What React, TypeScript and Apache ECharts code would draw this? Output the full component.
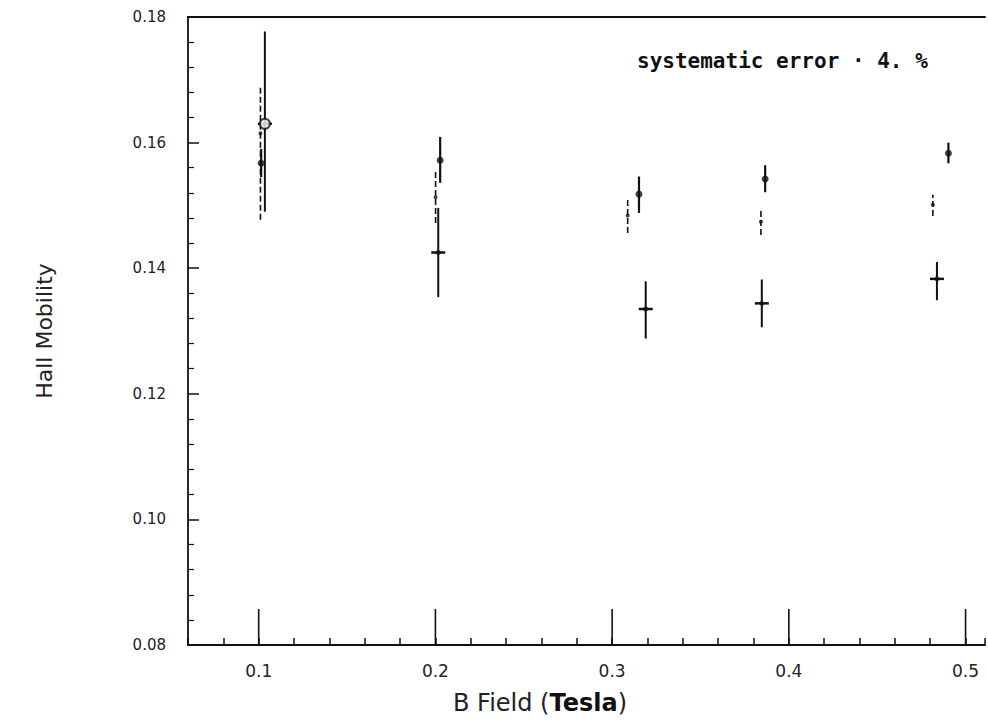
import React, { useEffect, useRef } from "react";
import * as echarts from "echarts";

// Series A: filled dots with solid error bars
const xA = [0.1014, 0.2027, 0.3152, 0.3866, 0.4903];
const yA = [0.1567, 0.1572, 0.1518, 0.1542, 0.1583];
const lowA = [0.1545, 0.1536, 0.1488, 0.1521, 0.1567];
const highA = [0.159, 0.1609, 0.1546, 0.1564, 0.16];

// Series B: small markers with thin (dashed) error bars
const xB = [0.101, 0.2001, 0.3088, 0.3842, 0.4815];
const yB = [0.1615, 0.1513, 0.1484, 0.1474, 0.1501];
const lowB = [0.1477, 0.1472, 0.1456, 0.1453, 0.1483];
const highB = [0.1692, 0.1553, 0.1512, 0.1494, 0.1517];

// Series C: crosses with error bars
const xC = [0.1035, 0.2016, 0.319, 0.3847, 0.4838];
const yC = [0.163, 0.1425, 0.1335, 0.1344, 0.1383];
const lowC = [0.149, 0.1354, 0.1288, 0.1306, 0.1349];
const highC = [0.1777, 0.1496, 0.1379, 0.1382, 0.141];

// Long (major) ticks on the B-field axis
const majorX = [0.1, 0.2, 0.3, 0.4, 0.5];

const yTicks = [0.08, 0.1, 0.12, 0.14, 0.16, 0.18];
const xMin = 0.06;
const xMax = 0.511;

const build = (xs: number[], ys: number[], lo: number[], hi: number[]) =>
  xs.map((x, i) => [x, ys[i], lo[i], hi[i]]);

const errRender =
  (width: number, dash: number[] | null, hbar: boolean) =>
  (params: any, api: any) => {
    const x = api.value(0);
    const y = api.value(1);
    const lo = api.value(2);
    const hi = api.value(3);
    const p1 = api.coord([x, lo]);
    const p2 = api.coord([x, hi]);
    const pc = api.coord([x, y]);
    const children: any[] = [
      {
        type: "line",
        shape: { x1: p1[0], y1: p1[1], x2: p2[0], y2: p2[1] },
        style: { stroke: "#111", lineWidth: width, lineDash: dash || undefined },
      },
    ];
    if (hbar) {
      children.push({
        type: "line",
        shape: { x1: pc[0] - 7, y1: pc[1], x2: pc[0] + 7, y2: pc[1] },
        style: { stroke: "#111", lineWidth: 2.5 },
      });
    }
    return { type: "group", children };
  };

export default function App() {
  const ref = useRef<HTMLDivElement>(null);
  useEffect(() => {
    if (!ref.current) return;
    const chart = echarts.init(ref.current, null, { renderer: "svg" });
    const font = "DejaVu Sans";
    chart.setOption({
      animation: false,
      backgroundColor: "#fff",
      grid: {
        left: 188,
        top: 17,
        right: 0,
        bottom: 75,
        show: false,
        containLabel: false,
      },
      xAxis: [
        {
          type: "value",
          min: xMin,
          max: xMax,
          interval: 0.02,
          axisLine: { show: true, lineStyle: { color: "#111", width: 2.2 } },
          axisTick: { show: true, inside: true, length: 7, lineStyle: { color: "#111", width: 1.5 } },
          splitLine: { show: false },
          axisLabel: {
            margin: 17,
            fontFamily: font,
            fontSize: 17,
            color: "#222",
            formatter: (v: number) =>
              Math.abs(v * 10 - Math.round(v * 10)) < 1e-6 ? v.toFixed(1) : "",
          },
        },
        {
          type: "value",
          position: "top",
          min: xMin,
          max: xMax,
          interval: 0.02,
          axisLine: { show: true, lineStyle: { color: "#111", width: 2 } },
          axisTick: { show: false },
          axisLabel: { show: false },
          splitLine: { show: false },
        },
      ],
      yAxis: {
        type: "value",
        min: yTicks[0],
        max: yTicks[yTicks.length - 1],
        interval: 0.02,
        axisLine: { show: true, lineStyle: { color: "#111", width: 1.8 } },
        axisTick: { show: true, inside: true, length: 11, lineStyle: { color: "#111", width: 1.5 } },
        minorTick: { show: true, splitNumber: 5, length: 6, lineStyle: { color: "#111", width: 1.2 } },
        splitLine: { show: false },
        axisLabel: {
          margin: 22,
          fontFamily: font,
          fontSize: 15,
          color: "#222",
          formatter: (v: number) => v.toFixed(2),
        },
        name: "Hall Mobility",
        nameLocation: "middle",
        nameRotate: 90,
        nameGap: 133,
        nameTextStyle: { fontFamily: font, fontSize: 22, color: "#222" },
      },
      graphic: [
        {
          type: "text",
          left: 453,
          top: 691,
          style: {
            text: "B Field ({b|Tesla})",
            font: "24px 'DejaVu Sans'",
            fill: "#222",
            rich: { b: { fontFamily: font, fontSize: 24, fontWeight: "bold", fill: "#111" } },
          },
        },
        {
          type: "text",
          left: 637,
          top: 50,
          style: {
            text: "systematic error · 4. %",
            font: "bold 21px 'DejaVu Sans Mono'",
            fill: "#111",
          },
        },
      ],
      series: [
        {
          type: "custom",
          name: "major ticks",
          data: majorX.map((x) => [x]),
          renderItem: (params: any, api: any) => {
            const p = api.coord([api.value(0), yTicks[0]]);
            return {
              type: "line",
              shape: { x1: p[0], y1: p[1], x2: p[0], y2: p[1] - 36 },
              style: { stroke: "#111", lineWidth: 1.6 },
            };
          },
          silent: true,
          z: 1,
        },
        {
          type: "custom",
          name: "A bars",
          data: build(xA, yA, lowA, highA),
          renderItem: errRender(2.2, null, false),
          encode: { x: 0, y: 1 },
          z: 2,
        },
        {
          type: "custom",
          name: "B bars",
          data: build(xB, yB, lowB, highB),
          renderItem: errRender(1.6, [6, 3], false),
          encode: { x: 0, y: 1 },
          z: 2,
        },
        {
          type: "custom",
          name: "C bars",
          data: build(xC, yC, lowC, highC),
          renderItem: errRender(2, null, true),
          encode: { x: 0, y: 1 },
          z: 2,
        },
        {
          type: "scatter",
          name: "A",
          data: xA.map((x, i) => [x, yA[i]]),
          symbol: "circle",
          symbolSize: 7,
          itemStyle: { color: "#111" },
          z: 3,
        },
        {
          type: "scatter",
          name: "B",
          data: xB.map((x, i) => [x, yB[i]]),
          symbol: "circle",
          symbolSize: 4,
          itemStyle: { color: "#111" },
          z: 3,
        },
        {
          type: "scatter",
          name: "C",
          data: xC.map((x, i) => [x, yC[i]]),
          symbol: "circle",
          symbolSize: 5,
          itemStyle: { color: "#111" },
          z: 3,
        },
        {
          type: "scatter",
          name: "C ring",
          data: [[xC[0], yC[0]]],
          symbol: "emptyCircle",
          symbolSize: 10,
          itemStyle: { color: "#111", borderColor: "#111", borderWidth: 2 },
          z: 4,
        },
      ],
    });
    return () => chart.dispose();
  }, []);
  return (
    <div
      ref={ref}
      style={{ position: "fixed", left: 0, top: 0, width: 988, height: 720, background: "#fff" }}
    />
  );
}
